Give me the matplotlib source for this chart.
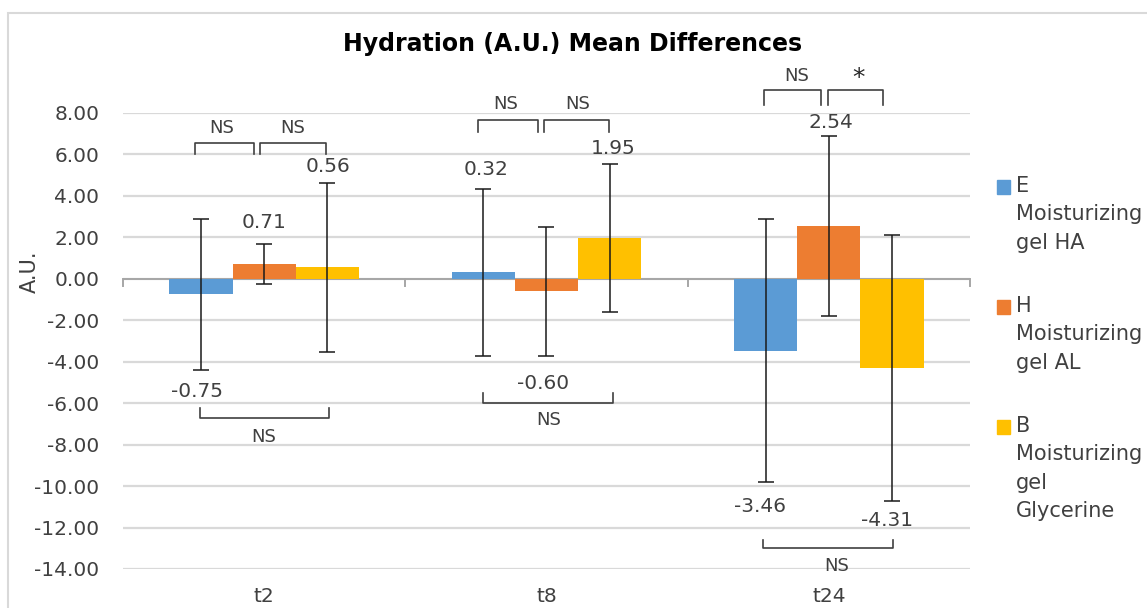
import numpy as np
import matplotlib
matplotlib.use("Agg")
from matplotlib import pyplot as plt
from matplotlib.patches import Rectangle

plt.rcParams["font.family"] = ["DejaVu Sans"]

categories = ["t2", "t8", "t24"]
series = ["E\nMoisturizing\ngel HA", "H\nMoisturizing\ngel AL", "B\nMoisturizing\ngel\nGlycerine"]
colors = ["#5B9BD5", "#ED7D31", "#FFC000"]

e_vals = [-0.75, 0.32, -3.46]
h_vals = [0.71, -0.60, 2.54]
b_vals = [0.56, 1.95, -4.31]

e_err = [3.65, 4.03, 6.33]
h_err = [0.96, 3.10, 4.33]
b_err = [4.07, 3.57, 6.40]

# significance brackets: (x1, x2, y_line, y_tip, text, x_text, y_text)
brackets = [
    (-0.245, -0.036, 6.55, 6.02, "NS", -0.15, 7.27),
    (-0.015, 0.219, 6.55, 6.02, "NS", 0.10, 7.27),
    (-0.227, 0.229, -6.71, -6.23, "NS", 0.0, -7.63),
    (0.757, 0.970, 7.66, 7.08, "NS", 0.856, 8.44),
    (0.991, 1.221, 7.66, 7.08, "NS", 1.111, 8.44),
    (0.775, 1.235, -5.99, -5.51, "NS", 1.009, -6.81),
    (1.770, 1.972, 9.11, 8.38, "NS", 1.887, 9.78),
    (1.997, 2.192, 9.11, 8.38, "*", 2.106, 9.70),
    (1.766, 2.227, -12.99, -12.60, "NS", 2.029, -13.86),
]

# value labels: (x, y, text)
labels = [
    (-0.238, -5.46, "-0.75"), (0.0, 2.74, "0.71"), (0.226, 5.44, "0.56"),
    (0.786, 5.25, "0.32"), (0.987, -5.03, "-0.60"), (1.235, 6.31, "1.95"),
    (1.756, -11.0, "-3.46"), (2.007, 7.52, "2.54"), (2.206, -11.64, "-4.31"),
]

fig = plt.figure(figsize=(11.47, 6.08), dpi=100)
ax = fig.add_axes([123 / 1147, 1 - 569 / 608, 847 / 1147, 456 / 608])

x = np.arange(len(categories))
w = 0.224
for k, (vals, errs) in enumerate([(e_vals, e_err), (h_vals, h_err), (b_vals, b_err)]):
    pos = x + (k - 1) * w
    ax.bar(pos, vals, width=w, color=colors[k], zorder=2)
    ax.errorbar(pos, vals, yerr=errs, fmt="none", ecolor="#1a1a1a",
                elinewidth=1.1, capsize=5.5, capthick=1.1, zorder=3)

ax.set_xlim(-0.5, 2.5)
ax.set_ylim(-14, 8)
ax.set_yticks(np.arange(-14, 9, 2))
ax.set_yticklabels([f"{v:.2f}" for v in np.arange(-14, 9, 2)])
ax.yaxis.grid(True, color="#D9D9D9", linewidth=1.6, zorder=0)
ax.set_axisbelow(True)
for s in ax.spines.values():
    s.set_visible(False)
ax.tick_params(axis="y", length=0, pad=17, labelsize=14.5, labelcolor="#404040")
ax.set_xticks(x)
ax.set_xticklabels(categories)
ax.tick_params(axis="x", length=0, pad=13, labelsize=14.5, labelcolor="#404040")

# zero axis line with category boundary ticks
ax.axhline(0, color="#A6A6A6", linewidth=1.4, zorder=1.5)
for b in [-0.5, 0.5, 1.5, 2.5]:
    ax.plot([b, b], [0, -0.35], color="#A6A6A6", linewidth=1.4, clip_on=False, zorder=1.5)

ax.set_ylabel("A.U.", fontsize=15, color="#404040")
ax.yaxis.set_label_coords(-0.098, 0.651)

for x1, x2, yl, yt, txt, xt, ytt in brackets:
    ax.plot([x1, x1, x2, x2], [yt, yl, yl, yt], color="#404040", linewidth=1.2, clip_on=False)
    if txt == "*":
        ax.text(xt, ytt, txt, ha="center", va="center", fontsize=18, color="#262626")
    else:
        ax.text(xt, ytt, txt, ha="center", va="center", fontsize=13, color="#404040")

for xl, yl, txt in labels:
    ax.text(xl, yl, txt, ha="center", va="center", fontsize=14.5, color="#404040")

fig.text(0.499, 0.928, "Hydration (A.U.) Mean Differences", ha="center", va="center",
         fontsize=17, fontweight="bold", color="black")

# legend drawn by hand so the key sits on the first text line
leg_y = [187, 307, 427]
for k, name in enumerate(series):
    yy = 1 - leg_y[k] / 608
    fig.patches.append(Rectangle((997 / 1147, yy - 7 / 608), 13 / 1147, 14 / 608,
                                 transform=fig.transFigure, color=colors[k]))
    fig.text(1016 / 1147, yy + 11 / 608, name, ha="left", va="top", fontsize=15,
             color="#404040", linespacing=1.52)

fig.patches.append(Rectangle((8 / 1147, -0.1), 1.2, 1.1 - 13 / 608, transform=fig.transFigure,
                             fill=False, edgecolor="#D9D9D9", linewidth=1.5))

fig.savefig("out.png", dpi=100)
